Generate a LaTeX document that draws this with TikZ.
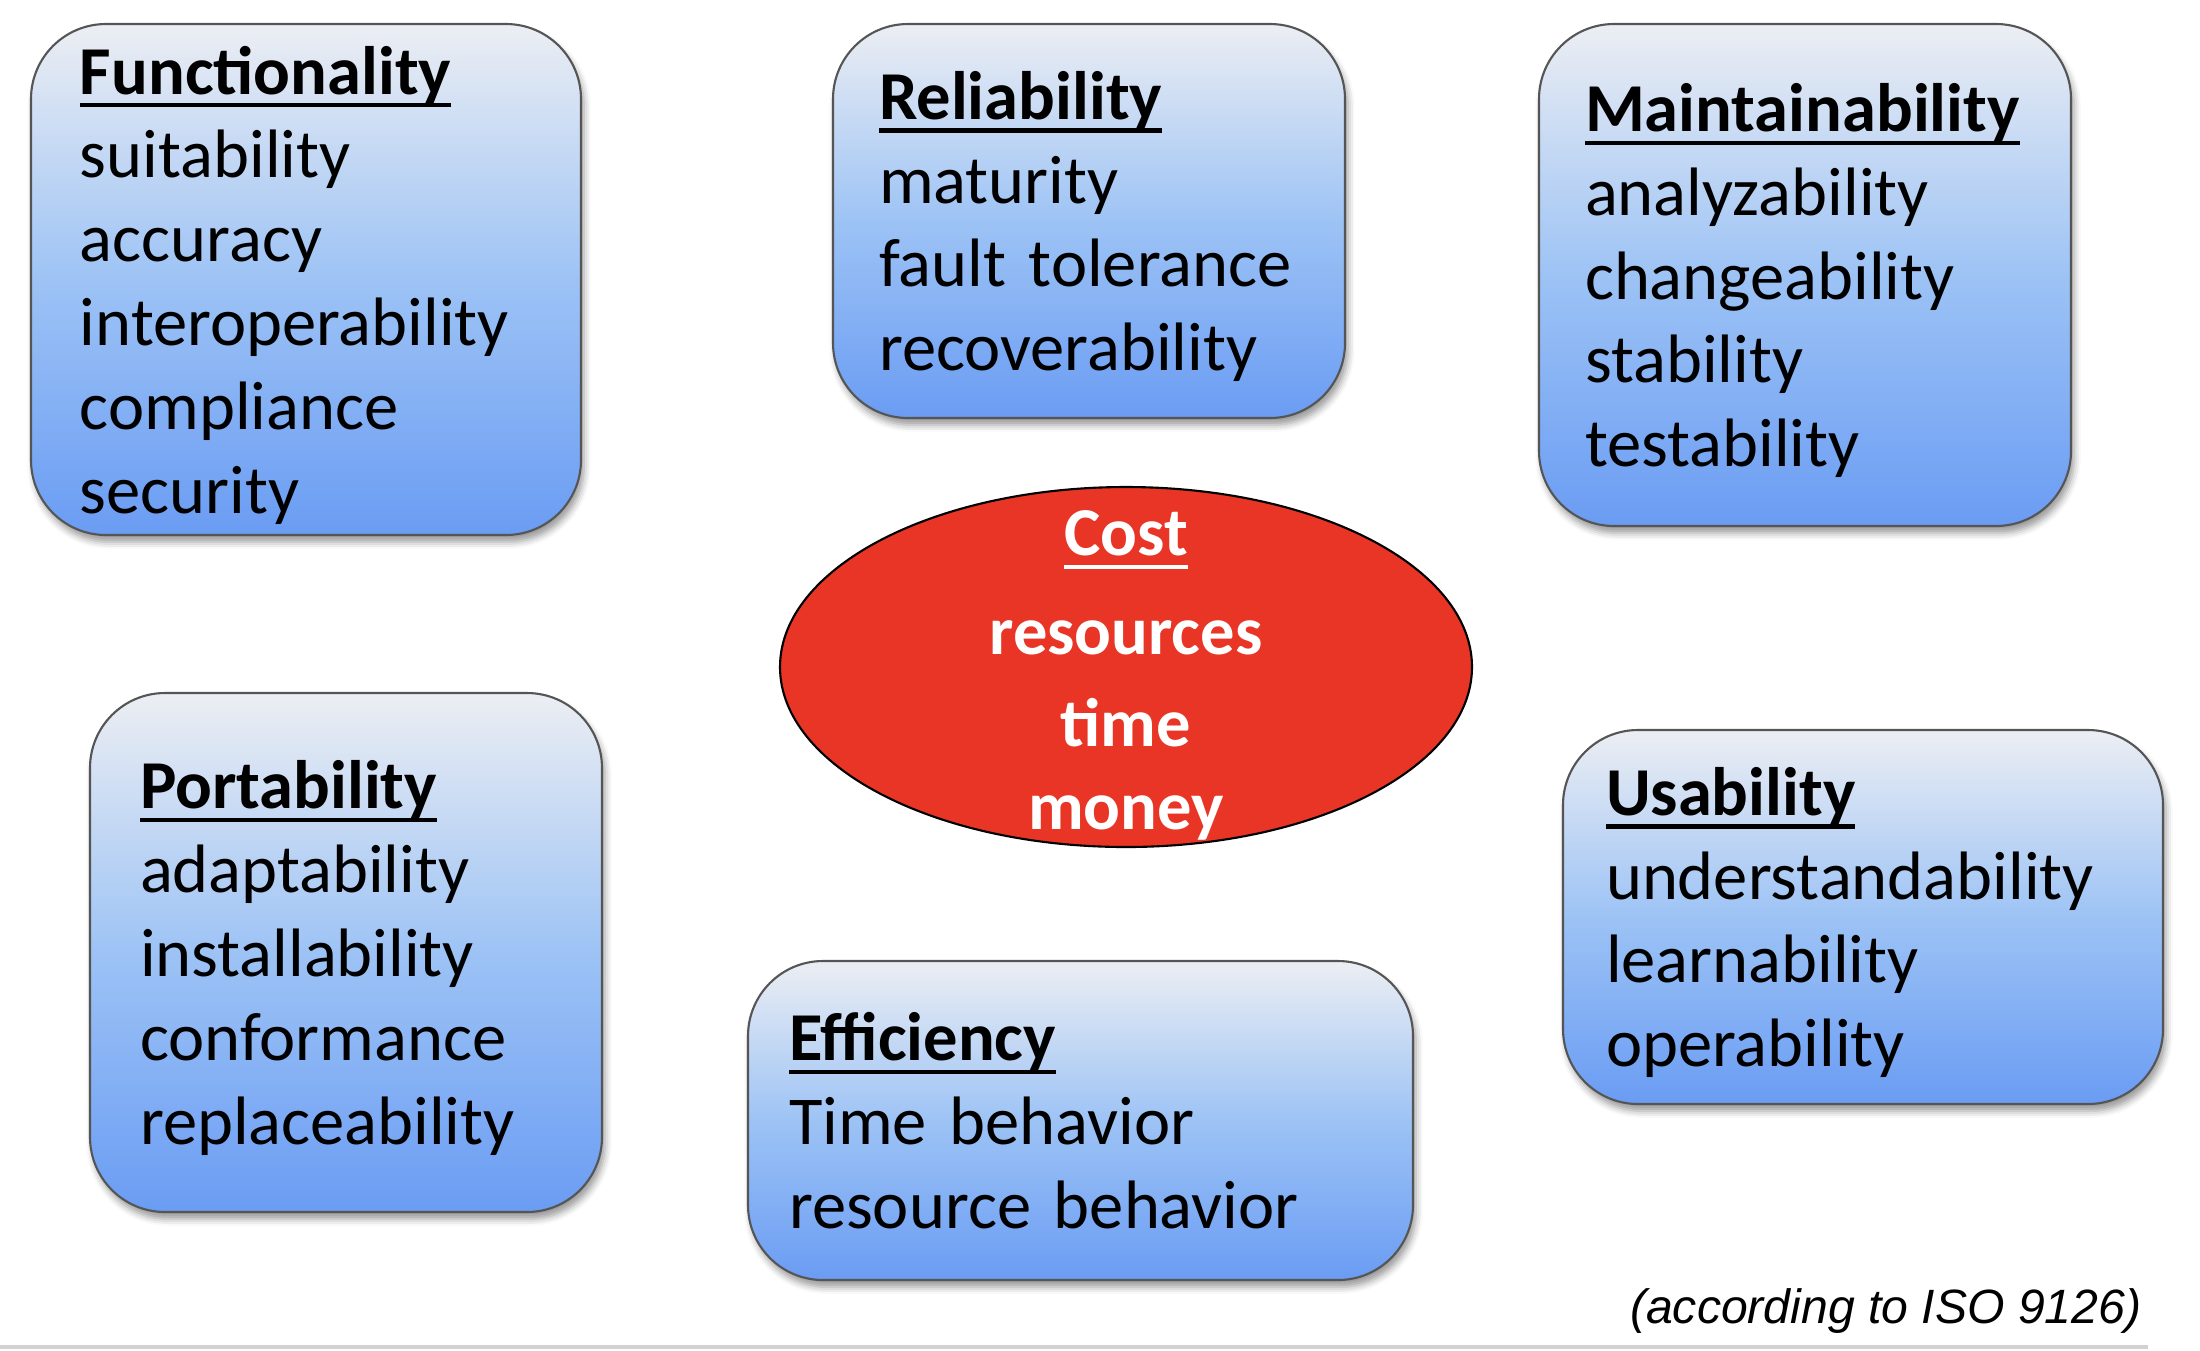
\documentclass[tikz,border=0pt]{standalone}
\usepackage{fontspec}
\setmainfont{Carlito}
\newfontfamily\notefont{Liberation Sans}
\usepackage{xcolor}
\usepackage{tikz}
\usetikzlibrary{shapes.geometric, shadows.blur}
\definecolor{boxTop}{HTML}{ECEEF3}
\definecolor{boxMid}{HTML}{9DC3F5}
\definecolor{boxBottom}{HTML}{6A9CF3}
\definecolor{costRed}{HTML}{E83526}
\definecolor{rimGray}{HTML}{555555}
\definecolor{ruleGray}{HTML}{D2D2D2}
\newcommand{\ulhead}[1]{\setbox0\hbox{\textbf{#1}}\rlap{\rule[-3.8pt]{\wd0}{1.2pt}}\box0}

\begin{document}
\begin{tikzpicture}[
    quality/.style={draw=rimGray, line width=0.6pt, rounded corners=0.75cm,
        top color=boxTop, bottom color=boxBottom, middle color=boxMid,
        blur shadow={shadow xshift=0.03cm, shadow yshift=-0.07cm},
        inner xsep=0.46cm, inner ysep=0pt, align=left,
        font=\fontsize{19.5}{23.85}\selectfont},
    costspot/.style={ellipse, draw=black, line width=0.6pt, fill=costRed, inner sep=0pt},
    costlines/.style={inner sep=0pt, text=white, align=center, text depth=0pt,
        font=\bfseries\fontsize{19.5}{23.85}\selectfont}
]

    \useasboundingbox (0,0) rectangle (22,-13.5);

    \node[quality, minimum width=5.50cm, minimum height=5.11cm, inner xsep=0.49cm, text width=4.52cm]
        (functionality) at (3.06,-2.795)
        {\ulhead{Functionality}\\suitability\\accuracy\\interoperability\\compliance\\\smash{security}};
    \node[quality, minimum width=5.12cm, minimum height=3.94cm, text width=4.20cm]
        (reliability) at (10.89,-2.21)
        {\ulhead{Reliability}\\maturity\\fault tolerance\\\smash{recoverability}};
    \node[quality, minimum width=5.32cm, minimum height=5.02cm, text width=4.40cm]
        (maintainability) at (18.05,-2.75)
        {\ulhead{Maintainability}\\analyzability\\changeability\\stability\\\smash{testability}};
    \node[quality, minimum width=5.12cm, minimum height=5.19cm, inner xsep=0.50cm, text width=4.12cm]
        (portability) at (3.46,-9.525)
        {\ulhead{Portability}\\adaptability\\installability\\conformance\\\smash{replaceability}};
    \node[quality, minimum width=6.65cm, minimum height=3.19cm, inner xsep=0.41cm, text width=5.83cm]
        (efficiency) at (10.805,-11.205)
        {\ulhead{Efficiency}\\Time behavior\\\smash{resource behavior}};
    \node[quality, minimum width=6.00cm, minimum height=3.74cm, inner xsep=0.43cm, text width=5.14cm]
        (usability) at (18.63,-9.17)
        {\ulhead{Usability}\\understandability\\learnability\\\smash{operability}};

    % red cost ellipse, text laid over it
    \node[costspot, minimum width=6.92cm, minimum height=3.60cm] (cost) at (11.26,-6.67) {};
    \node[costlines] (costtext) at ([yshift=-0.03cm]cost.center)
        {\ulhead{Cost}\\[4.4pt]resources\\[2.3pt]time\\[-0.25pt]money};

    \node[anchor=base east, inner sep=0pt, font=\notefont\itshape\fontsize{13.7}{16}\selectfont]
        (isonote) at (21.42,-13.235) {(according to ISO 9126)};
    \draw[ruleGray, line width=1.1pt] (0,-13.47) -- (21.48,-13.47);
\end{tikzpicture}
\end{document}
